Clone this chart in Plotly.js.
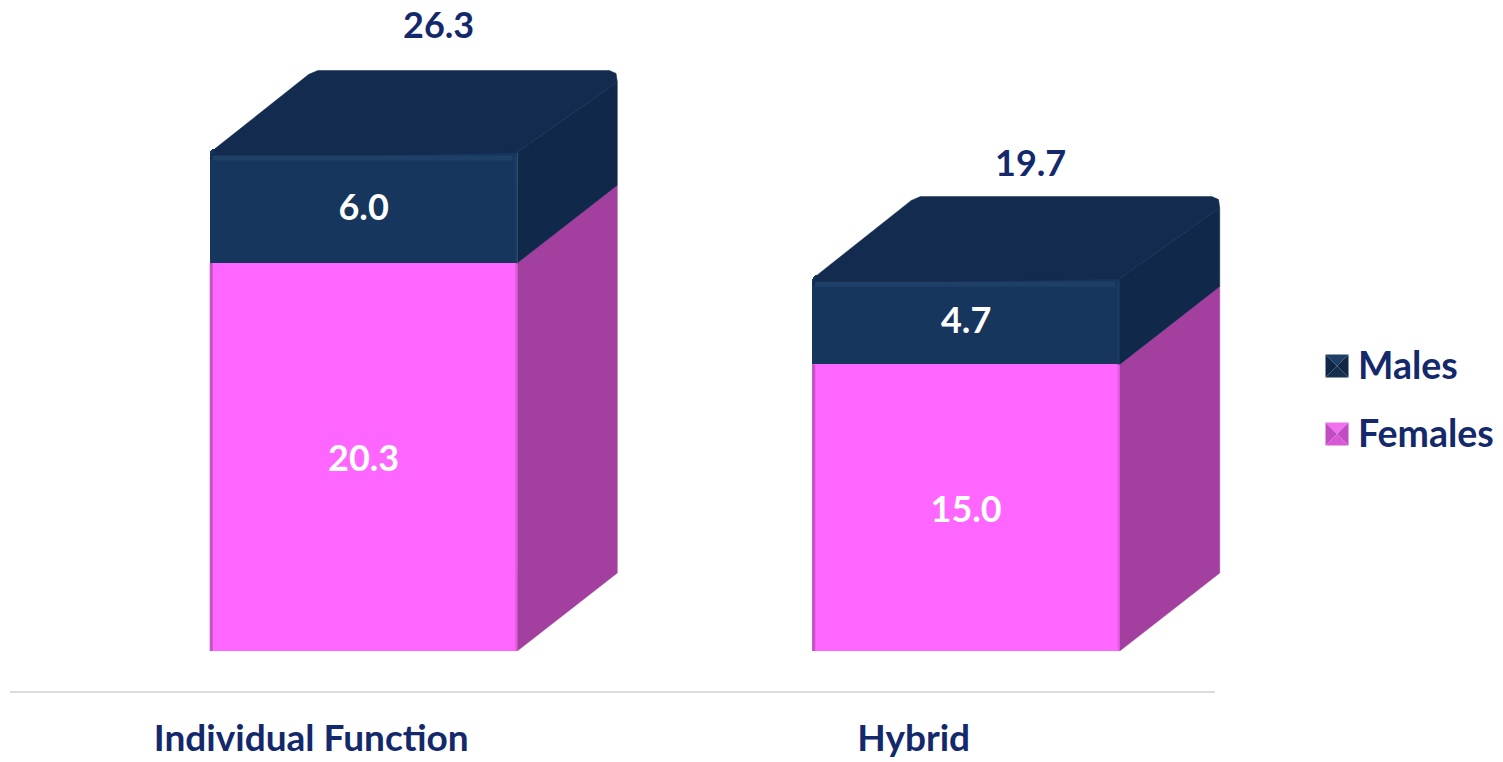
<!DOCTYPE html>
<html><head><meta charset="utf-8">
<script src="https://cdn.plot.ly/plotly-3.0.1.min.js"></script>
<style>html,body{margin:0;padding:0;background:#fff}</style>
</head><body><div id="chart" style="width:1503px;height:762px"></div>
<script>
const categories = ['Individual Function', 'Hybrid'];
const females = [20.3, 15.0];
const males = [6.0, 4.7];
const totals = [26.3, 19.7];
const depthX = 0.166, depthY = 4.08, topLeftDepthX = 0.176;
const barLeft = -0.168, barWidth = 0.51;
const navy='#17365d', navyTop='#132b4e', navySide='#10284a', pink='#ff66ff', pinkSide='#a3409f', ink='#14296b';
const font='Lato, Carlito, sans-serif';
const xs = categories.map((_, i) => i);
const traces = [];
function face(x, y, color){
  traces.push({type:'scatter',mode:'lines',x,y,fill:'toself',fillcolor:color,
    line:{color:color,width:0.5},hoverinfo:'skip',showlegend:false});
}
function seg(x, y, color, w){
  traces.push({type:'scatter',mode:'lines',x,y,line:{color:color,width:w},hoverinfo:'skip',showlegend:false});
}
const valueFont={family:font,size:36,color:'#fff',weight:700};
traces.push({type:'bar',name:'Females',x:xs,y:females,offset:barLeft,width:barWidth,
  marker:{color:pink,line:{width:0}},text:females.map(v=>v.toFixed(1)),textposition:'inside',insidetextanchor:'middle',
  textangle:0,textfont:valueFont,showlegend:false});
traces.push({type:'bar',name:'Males',x:xs,y:males,offset:barLeft,width:barWidth,
  marker:{color:navy,line:{width:0}},text:males.map(v=>v.toFixed(1)),textposition:'inside',insidetextanchor:'middle',
  textangle:0,textfont:valueFont,showlegend:false});
xs.forEach(i=>{
  const L=i+barLeft, R=L+barWidth, f=females[i], t=totals[i];
  const BR=R+depthX, BL=L+topLeftDepthX, BT=t+depthY;
  face([R,BR,BR,R,R],[0,depthY,f+depthY,f,0],pinkSide);
  face([R,BR,BR,R,R],[f,f+depthY,BT-0.6,t-0.2,f],navySide);
  face([L,L+0.008,BL-0.012,BL+0.003,BR-0.013,BR-0.002,BR,R,L],
       [t-0.55,t-0.02,BT-0.2,BT,BT,BT-0.15,BT-0.6,t-0.2,t-0.55],navyTop);
  seg([L+0.004,R-0.008],[t-0.5,t-0.5],'#1f4066',5);
  seg([L+0.002,L+0.002],[0,f],'#c653c6',3);
  seg([R-0.002,R-0.002],[0,f],'#e65be6',2);
  seg([R-0.002,R-0.002],[f,t-0.4],'#1c3c62',2);
});
const annotations = xs.map(i=>({x:i+[0.211,0.194][i],y:totals[i]+depthY+[2.43,1.82][i],text:totals[i].toFixed(1),
  showarrow:false,xanchor:'center',yanchor:'middle',font:{family:font,size:36,color:ink,weight:700}}));
const plotL=10, plotW=1220;
const px=v=>(v-plotL)/plotW, py=v=>1-v/692;
const legendItems=[
  {name:'Males',y:366,top:'#1d3f68',side:'#102845',bot:'#14304f'},
  {name:'Females',y:434,top:'#f070f0',side:'#c24cc2',bot:'#d858d8'}];
const shapes=[{type:'line',xref:'x',yref:'paper',x0:-0.5,x1:1.5,y0:0,y1:0,line:{color:'#dcdcdc',width:2}}];
legendItems.forEach(l=>{
  const s=11.5,c=1337,m=l.y;
  const tri=(ax,ay,bx,by,col)=>shapes.push({type:'path',xref:'paper',yref:'paper',line:{width:0},fillcolor:col,
    path:`M${px(ax)},${py(ay)}L${px(bx)},${py(by)}L${px(c)},${py(m)}Z`});
  tri(c-s,m-s,c+s,m-s,l.top); tri(c-s,m+s,c+s,m+s,l.bot);
  tri(c-s,m-s,c-s,m+s,l.side); tri(c+s,m-s,c+s,m+s,l.side);
  annotations.push({xref:'paper',yref:'paper',x:px(1356),y:py(l.y-1.5),text:l.name,showarrow:false,xanchor:'left',yanchor:'middle',
    font:{family:font,size:37.5,color:ink,weight:700}});
});
const layout={width:1503,height:762,paper_bgcolor:'#fff',plot_bgcolor:'#fff',barmode:'stack',barcornerradius:5,
  margin:{l:plotL,r:273,t:0,b:70},showlegend:false,annotations,shapes,
  xaxis:{type:'linear',range:[-0.5,1.525],tickmode:'array',tickvals:xs,ticktext:categories,showgrid:false,zeroline:false,
    showline:false,ticks:'',ticklabelstandoff:21,tickfont:{family:font,size:37,color:ink,weight:700}},
  yaxis:{range:[-2.145,34.07],visible:false,showgrid:false,zeroline:false}};
Plotly.newPlot('chart',traces,layout,{displayModeBar:false,responsive:false});
</script></body></html>
